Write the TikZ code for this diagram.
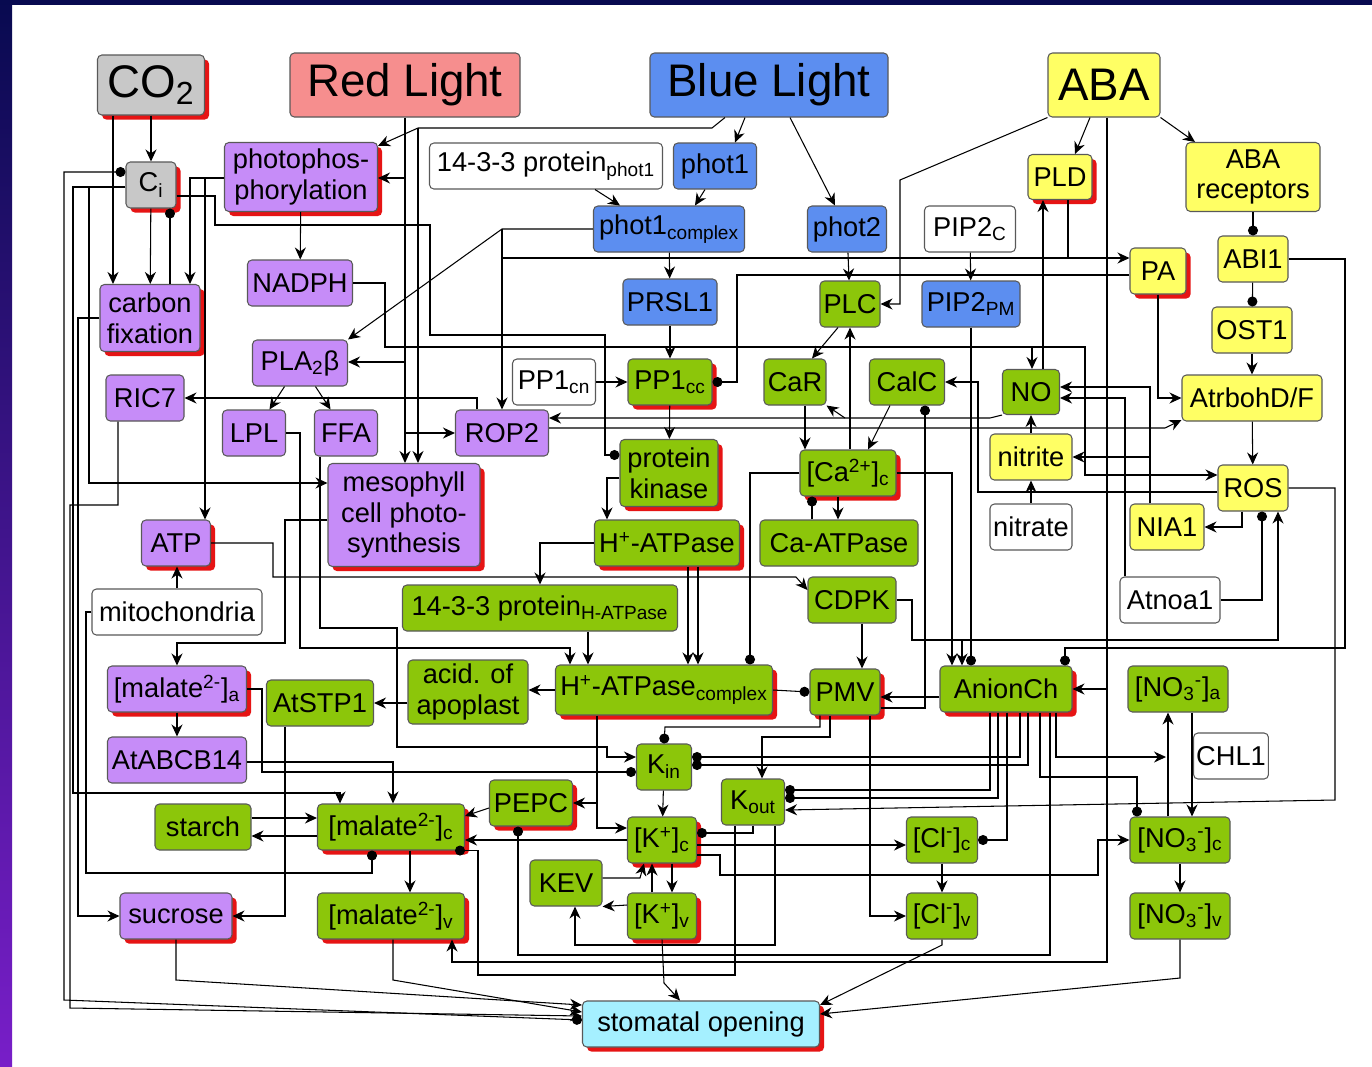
\documentclass[tikz,border=0pt]{standalone}
\usepackage{fontspec}
\setmainfont{Liberation Sans}
\usetikzlibrary{arrows.meta,shadows}
\definecolor{grbox}{RGB}{140,198,10}
\definecolor{pubox}{RGB}{198,140,248}
\definecolor{blbox}{RGB}{92,142,240}
\definecolor{yebox}{RGB}{255,255,100}
\definecolor{rdbox}{RGB}{246,142,142}
\definecolor{gybox}{RGB}{200,200,200}
\definecolor{cybox}{RGB}{165,240,255}
\definecolor{shred}{RGB}{230,20,20}
\definecolor{bgnavy}{RGB}{8,10,80}
\definecolor{bgblue}{RGB}{24,24,200}
\definecolor{bgpurp}{RGB}{120,30,200}
\tikzset{
  box/.style={draw=black!65, line width=0.6pt, rounded corners=2.5pt, minimum height=0.92cm,
    inner sep=1.5pt, align=center, font=\fontsize{15.5}{17.5}\selectfont},
  big/.style={font=\fontsize{26}{30}\selectfont},
  bw/.style={minimum width=#1*0.02cm},
  bh/.style={minimum height=#1*0.02cm},
  rsh/.style={drop shadow={shadow xshift=2.6pt, shadow yshift=-2.6pt, fill=shred, opacity=1}},
  nosh/.style={},
  act/.style={-{Stealth[length=2.4mm,width=2.2mm]}},
  inh/.style={-{Circle[length=2mm]}},
}
\begin{document}
\begin{tikzpicture}[x=0.02cm, y=-0.02cm, line width=0.6pt]
\useasboundingbox (0,0) rectangle (1372,1066);
% Draw background and frame
\fill[white] (0,0) rectangle (1372,1066);
\shade[top color=bgnavy, middle color=bgblue, bottom color=bgpurp] (0,0) rectangle (12,1066);
\fill[bgnavy] (0,0) rectangle (1372,5);

% Inputs
\node[box,big,fill=gybox,rsh,bw=107,bh=60] (CO2) at (151,85) {CO\textsubscript{2}};
\node[box,big,fill=rdbox,bw=230,bh=64] (RedL) at (405,85) {Red Light};
\node[box,big,fill=blbox,bw=238,bh=64] (BlueL) at (769,85) {Blue Light};
\node[box,big,fill=yebox,bw=112,bh=64] (ABA) at (1104,85) {ABA};
\node[box,fill=gybox,rsh,bw=50,bh=46] (Ci) at (151,185) {C\textsubscript{i}};

% Purple nodes
\foreach \nm/\cx/\cy/\ww/\hh/\sh/\lbl in {
  photo/301/177/153/69/rsh/{photophos-\\phorylation},
  NADPH/300/283/105/46/nosh/NADPH,
  carbon/150/318/100/67/rsh/{carbon\\fixation},
  PLA/300/363/95/46/nosh/{PLA\textsubscript{2}β},
  RIC7/145/398/78/46/nosh/RIC7,
  LPL/254/433/63/46/nosh/LPL,
  FFA/346/433/63/46/nosh/FFA,
  ROP2/502/433/93/46/nosh/ROP2,
  meso/404/515/152/103/rsh/{mesophyll\\cell photo-\\synthesis},
  ATP/176/543/69/46/rsh/ATP,
  mala/177/689/139/46/rsh/{[malate\textsuperscript{2-}]\textsubscript{a}},
  ABCB/177/760/139/46/nosh/AtABCB14,
  sucrose/176/916/112/46/rsh/sucrose}
  \node[box,fill=pubox,\sh,bw=\ww,bh=\hh] (\nm) at (\cx,\cy) {\lbl};

% Blue nodes
\foreach \nm/\cx/\cy/\ww/\lbl in {
  phot1/715/166/83/phot1,
  phot1c/669/229/151/{phot1\textsubscript{complex}},
  phot2/847/229/79/phot2,
  PRSL1/670/302/94/PRSL1,
  PIP2pm/971/304/98/{PIP2\textsubscript{PM}}}
  \node[box,fill=blbox,bw=\ww] (\nm) at (\cx,\cy) {\lbl};

% Yellow nodes
\foreach \nm/\cx/\cy/\ww/\hh/\sh/\lbl in {
  PLD/1060/177/64/45/rsh/PLD,
  ABArec/1253/177/134/69/nosh/{ABA\\receptors},
  ABI1/1253/259/70/46/nosh/ABI1,
  PA/1158/271/56/46/rsh/PA,
  OST1/1252/330/80/46/nosh/OST1,
  Atrboh/1252/398/140/46/nosh/{AtrbohD/F},
  nitrite/1031/457/82/46/nosh/nitrite,
  ROS/1253/488/70/46/nosh/ROS,
  NIA1/1167/527/74/46/nosh/NIA1}
  \node[box,fill=yebox,\sh,bw=\ww,bh=\hh] (\nm) at (\cx,\cy) {\lbl};

% White nodes
\foreach \nm/\cx/\cy/\ww/\lbl in {
  p1433a/546/166/233/{14-3-3 protein\textsubscript{phot1}},
  PIP2c/970/229/91/{PIP2\textsubscript{C}},
  PP1cn/554/382/83/{PP1\textsubscript{cn}},
  nitrate/1031/527/82/nitrate,
  mito/177/612/170/mitochondria,
  Atnoa1/1170/600/100/Atnoa1,
  CHL1/1231/756/73/CHL1}
  \node[box,fill=white,bw=\ww] (\nm) at (\cx,\cy) {\lbl};

% Green nodes
\foreach \nm/\cx/\cy/\ww/\hh/\sh/\lbl in {
  PLC/850/304/60/46/nosh/PLC,
  PP1cc/670/382/84/46/rsh/{PP1\textsubscript{cc}},
  CaR/795/382/62/46/nosh/CaR,
  CalC/907/382/75/46/nosh/CalC,
  NO/1031/392/57/45/nosh/NO,
  pkin/669/473/98/67/rsh/{protein\\kinase},
  Cac/848/473/96/46/rsh/{[Ca\textsuperscript{2+}]\textsubscript{c}},
  HATP/667/543/145/46/rsh/{H\textsuperscript{+}-ATPase},
  CaATP/839/543/158/46/nosh/Ca-ATPase,
  CDPK/852/600/88/46/nosh/CDPK,
  p1433h/540/608/275/46/nosh/{14-3-3 protein\textsubscript{H-ATPase}},
  AtSTP1/320/703/107/46/nosh/AtSTP1,
  acid/468/692/120/64/nosh/{acid. of\\apoplast},
  HATPc/664/690/217/50/rsh/{H\textsuperscript{+}-ATPase\textsubscript{complex}},
  PMV/845/692/70/46/rsh/PMV,
  Anion/1006/689/132/46/rsh/AnionCh,
  NO3a/1178/689/100/46/nosh/{[NO\textsubscript{3}\textsuperscript{-}]\textsubscript{a}},
  Kin/664/767/55/46/nosh/{K\textsubscript{in}},
  Kout/753/802/63/46/nosh/{K\textsubscript{out}},
  PEPC/531/803/83/46/rsh/PEPC,
  starch/203/827/96/46/nosh/starch,
  malc/391/827/147/46/rsh/{[malate\textsuperscript{2-}]\textsubscript{c}},
  Kc/662/840/69/46/rsh/{[K\textsuperscript{+}]\textsubscript{c}},
  Clc/942/840/71/46/nosh/{[Cl\textsuperscript{-}]\textsubscript{c}},
  NO3c/1180/840/100/46/nosh/{[NO\textsubscript{3}\textsuperscript{-}]\textsubscript{c}},
  KEV/566/883/72/46/nosh/KEV,
  malv/391/916/147/46/rsh/{[malate\textsuperscript{2-}]\textsubscript{v}},
  Kv/662/916/69/46/rsh/{[K\textsuperscript{+}]\textsubscript{v}},
  Clv/942/916/71/46/nosh/{[Cl\textsuperscript{-}]\textsubscript{v}},
  NO3v/1180/916/100/46/nosh/{[NO\textsubscript{3}\textsuperscript{-}]\textsubscript{v}}}
  \node[box,fill=grbox,\sh,bw=\ww,bh=\hh] (\nm) at (\cx,\cy) {\lbl};

% Output
\node[box,fill=cybox,rsh,bw=237] (stom) at (701,1024) {stomatal opening};

% CO2 and Ci
\draw[act] (CO2) -- (Ci);
\draw[act] (CO2.south -| 113,0) -- (carbon.north -| 113,0);
\draw[act] (Ci) -- (carbon);
\draw[inh] (carbon.north -| 170,0) -- (Ci.south -| 170,0);
\draw[{Circle[length=2mm]}-{Circle[length=2mm]}] (Ci.west |- 0,172) -| (64,1000) -- (stom.west |- 0,1020);
\draw[act] (Ci.west |- 0,187) -| (73,793) -| (malc.north -| 340,0);
\draw[act] (Ci.west |- 0,187) -| (89,483) -- (meso.west |- 0,483);
\draw[inh] (Ci.east |- 0,196) -| (215,225) -| (430,335) -| (605,455) -- (pkin.west |- 0,455);
\draw[act] (carbon.west) -- (78,318) |- (sucrose.west);

% Photophosphorylation
\draw[act] (photo.west |- 0,178) -| (carbon.north -| 190,0);
\draw[act] (photo.west |- 0,178) -| (ATP.north -| 205,0);
\draw[act] (photo) -- (NADPH);

% Light inputs
\draw[act] (RedL.south -| 405,0) -- (meso.north -| 405,0);
\draw[act] (405,178) -- (photo.east |- 0,178);
\draw[act] (405,362) -- (PLA.east |- 0,362);
\draw[act] (405,433) -- (ROP2.west);
\draw[act] (BlueL.south -| 725,0) -- (712,128) -- (418,128) -- (photo.22);
\draw[act] (418,128) -- (meso.north -| 418,0);
\draw[act] (BlueL.south -| 745,0) -- (phot1.north -| 735,0);
\draw[act] (BlueL.south -| 790,0) -- (phot2.north -| 835,0);
\draw[act] (phot1.south -| 705,0) -- (phot1c.north -| 695,0);
\draw[act] (p1433a.south -| 595,0) -- (phot1c.north -| 620,0);
\draw[act] (phot1c) -- (PRSL1);
\draw[act] (PRSL1) -- (PP1cc);
\draw[act] (PP1cn) -- (PP1cc);
\draw[act] (PP1cc) -- (pkin);
\draw[act] (phot1c.west) -- (502,229) -- (PLA.north east);
\draw[act] (502,229) -- (ROP2.north -| 502,0);
\draw (502,258) -- (1068,258);
\draw[act] (phot2) -- (PLC);
\draw[act] (PIP2c) -- (PIP2pm);
\draw[act] (PLC.south -| 838,0) -- (CaR.north -| 812,0);
\draw[act] (Cac.north -| 850,0) -- (PLC.south -| 850,0);
\draw[act] (CaR.south -| 805,0) -- (Cac.north -| 805,0);
\draw[act] (CalC.south -| 890,0) -- (Cac.north -| 868,0);

% ABA branch
\draw[act] (ABA.south west) -- (900,180) |- (PLC.east);
\draw[act] (ABA.south -| 1090,0) -- (PLD.north -| 1075,0);
\draw[act] (ABA.south east) -- (ABArec.north -| 1195,0);
\draw[inh] (ABArec) -- (ABI1);
\draw[inh] (ABI1) -- (OST1);
\draw[act] (OST1) -- (Atrboh);
\draw[act] (Atrboh) -- (ROS);
\draw[act] (PLD.south -| 1068,0) |- (PA.west |- 0,258);
\draw[inh] (PA.west |- 0,275) -| (737,382) -- (PP1cc.east);
\draw[act] (PA.south) |- (Atrboh.west);
\draw[act] (ABA.south -| 1107,0) |- (452,962) -- (malv.south -| 452,0);
\draw[act] (1107,689) -- (Anion.east);
\draw[inh] (ABI1.east) -| (1345,648) -| (Anion.north -| 1065,0);

% NO, nitrite and ROS
\draw[act] (nitrate) -- (nitrite);
\draw[act] (nitrite) -- (NO);
\draw[act] (NO.north -| 1043,0) -- (PLD.south -| 1043,0);
\draw[act] (NADPH.east) -| (385,347) -- (1085,347) |- (ROS.west |- 0,475);
\draw[act] (1032,347) -- (NO.north -| 1032,0);
\draw[act] (ROS.west |- 0,492) -| (978,382) -- (CalC.east);
\draw[act] (ROS.south -| 1242,0) |- (NIA1.east);
\draw[act] (NIA1.north -| 1150,0) |- (NO.east |- 0,387);
\draw[act] (NIA1.north -| 1150,0) |- (nitrite.east);
\draw[act] (Atnoa1.north -| 1125,0) |- (NO.east |- 0,398);
\draw[inh] (Atnoa1.east) -| (ROS.south -| 1262,0);
\draw[act] (CDPK.east) -| (912,640) -| (ROS.south -| 1278,0);
\draw[act] (912,640) -| (Anion.north -| 962,0);
\draw[act] (ROS.east) -| (1335,800) -- (Kout.east |- 0,810);
\draw[act] (NO.south west) -- (990,418) -- (ROP2.east |- 0,418);
\draw[act] (845,418) -- (CaR.south east);
\draw[act] (ROP2.east |- 0,428) -- (1165,428) -- (Atrboh.west |- 0,420);
\draw[act] (ROP2.north -| 477,0) |- (RIC7.east);
\draw[act] (PLA) -- (LPL);
\draw[act] (PLA) -- (FFA);

% Kinase and pumps
\draw[act] (pkin.west |- 0,478) -| (HATP.north -| 607,0);
\draw[act] (HATP.west) -| (p1433h.north -| 540,0);
\draw[act] (p1433h.south -| 588,0) -- (HATPc.north -| 588,0);
\draw[act] (LPL.east) -| (300,648) -| (HATPc.north -| 570,0);
\draw[act] (FFA.south -| 320,0) |- (397,628) |- (607,747) |- (Kin.west |- 0,757);
\draw[inh] (mala.east) -| (262,772) -- (Kin.west |- 0,772);
\draw[act] (HATP.south -| 688,0) -- (HATPc.north -| 688,0);
\draw[act] (HATP.south -| 698,0) -- (HATPc.north -| 698,0);
\draw[inh] (Cac.west) -| (HATPc.north -| 750,0);
\draw[act] (Cac.south -| 838,0) -- (CaATP.north -| 838,0);
\draw[inh] (CaATP.north -| 812,0) -- (Cac.south -| 812,0);
\draw[act] (Cac.east) -| (Anion.north -| 952,0);
\draw[act] (ATP.east) -| (273,577) -- (796,577) -- (CDPK.west |- 0,590);
\draw[act] (CDPK.south -| 862,0) -- (PMV.north -| 862,0);
\draw[inh] (HATPc.east) -- (PMV.west);
\draw[act] (Anion.west |- 0,697) -- (PMV.east |- 0,697);
\draw[inh] (PMV.east |- 0,708) -| (CalC.south -| 925,0);
\draw[inh] (PIP2pm.south) -- (Anion.north -| 971,0);

% Apoplast, malate and sugars
\draw[act] (HATPc.west) -- (acid.east |- 0,690);
\draw[act] (acid.west |- 0,703) -- (AtSTP1.east);
\draw[act] (AtSTP1.south -| 285,0) |- (sucrose.east);
\draw[act] (meso.west |- 0,520) -| (285,643) -| (mala.north);
\draw[act] (mito.north -| 177,0) -- (ATP.south -| 177,0);
\draw[inh] (mito.west) -| (86,873) -| (malc.south -| 372,0);
\draw[act] (mala) -- (ABCB);
\draw[act] (ABCB.east |- 0,762) -| (malc.north -| 393,0);
\draw[act] (starch.east |- 0,818) -- (malc.west |- 0,818);
\draw[act] (malc.west |- 0,836) -- (starch.east |- 0,836);
\draw[act] (PEPC.west |- 0,808) -- (malc.east |- 0,816);
\draw[act] (Kc.west) -- (malc.east |- 0,840);
\draw[act] (HATPc.south -| 597,0) |- (PEPC.east);
\draw[act] (597,803) |- (Kc.west |- 0,828);
\draw[act] (malc.south -| 410,0) -- (malv.north -| 410,0);
\draw[inh] (Anion.south -| 1050,0) |- (518,955) -- (PEPC.south -| 518,0);
\draw[inh] (Kout.south -| 735,0) |- (478,975) |- (malc.south -| 455,0);

% Potassium
\draw[act] (Kin) -- (Kc);
\draw[inh] (PMV.south -| 820,0) |- (665,727) -- (Kin.north);
\draw[act] (PMV.south -| 830,0) |- (762,737) -- (Kout.north -| 762,0);
\draw[inh] (Kout.south -| 753,0) |- (Kc.east |- 0,833);
\draw[act] (Kc.south -| 672,0) -- (Kv.north -| 672,0);
\draw[act] (Kv.north -| 652,0) -- (Kc.south -| 652,0);
\draw[act] (KEV.east |- 0,878) -- (640,878) -- (Kc.south -| 644,0);
\draw[act] (Kv.west |- 0,905) -- (KEV.south east);
\draw[act] (Kout.south -| 775,0) |- (575,945) -- (KEV.south -| 575,0);
\draw[inh] (Anion.south -| 990,0) |- (Kout.east |- 0,790);
\draw[inh] (Anion.south -| 998,0) |- (Kout.east |- 0,798);
\draw[inh] (Anion.south -| 1020,0) |- (Kin.east |- 0,757);
\draw[inh] (Anion.south -| 1028,0) |- (Kin.east |- 0,765);

% Anions
\draw[inh] (Anion.south -| 1007,0) |- (Clc.east);
\draw[inh] (Anion.south -| 1040,0) |- (1137,777) -- (NO3c.north -| 1137,0);
\draw[act] (Anion.south -| 1056,0) |- (1166,757);
\draw[act] (NO3c.north -| 1168,0) -- (NO3a.south -| 1168,0);
\draw[act] (NO3a.south -| 1192,0) -- (NO3c.north -| 1192,0);
\draw[act] (Clc) -- (Clv);
\draw[act] (NO3c) -- (NO3v);
\draw[act] (Kc.east |- 0,845) -- (Clc.west |- 0,845);
\draw[act] (Kc.east |- 0,855) -- (720,855) |- (1098,875) |- (NO3c.west);
\draw[act] (PMV.south -| 870,0) |- (Clv.west);

% Stomatal opening
\draw[act] (Kv.south) -- (664,983) -- (stom.north -| 680,0);
\draw[act] (sucrose.south) -- (176,980) -- (stom.west |- 0,1005);
\draw[act] (malv.south -| 393,0) -- (393,980) -- (stom.west |- 0,1012);
\draw[act] (RIC7.south -| 118,0) |- (70,505) -- (70,1008) -- (stom.west |- 0,1016);
\draw[act] (Clv.south) -- (942,945) -- (stom.east |- 0,1005);
\draw[act] (NO3v.south) -- (1180,978) -- (stom.east |- 0,1014);
\end{tikzpicture}
\end{document}
